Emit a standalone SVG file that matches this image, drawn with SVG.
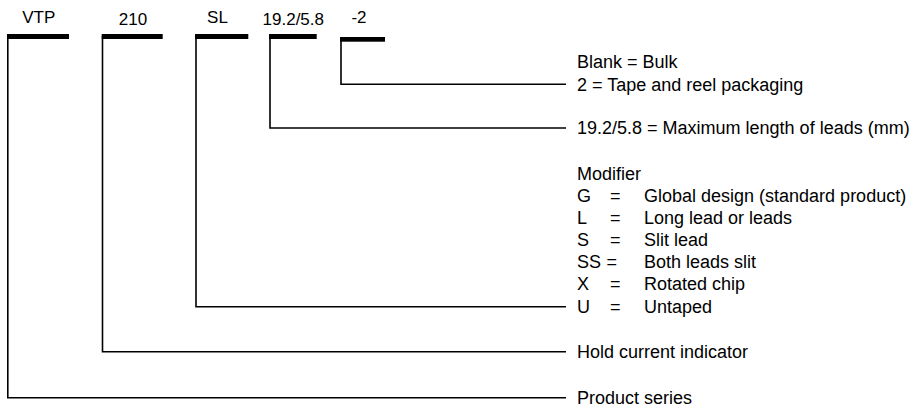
<svg xmlns="http://www.w3.org/2000/svg" width="914" height="408" viewBox="0 0 914 408">
<style>
text{font-family:"Liberation Sans",Arial,sans-serif;fill:#000}
.top{font-size:17px;text-anchor:middle}
.lbl{font-size:18px}
.bar{fill:#000}
.conn{fill:none;stroke:#000;stroke-width:1.6}
</style>
<rect width="914" height="408" fill="#fff"/>
<g id="connectors">
<path class="conn" d="M7.8,36 V397.7 H566"/>
<path class="conn" d="M102.5,36 V351.7 H566"/>
<path class="conn" d="M196,36 V306.7 H566"/>
<path class="conn" d="M270,36 V128 H566"/>
<path class="conn" d="M341,39 V84.3 H566"/>
</g>
<g id="seg-vtp">
<text class="top" x="38.8" y="23">VTP</text>
<rect class="bar" x="7" y="34" width="62" height="5"/>
</g>
<g id="seg-210">
<text class="top" x="133" y="25">210</text>
<rect class="bar" x="101.7" y="34" width="61" height="5"/>
</g>
<g id="seg-sl">
<text class="top" x="217.5" y="23">SL</text>
<rect class="bar" x="195" y="34" width="53.3" height="5"/>
</g>
<g id="seg-len">
<text class="top" x="293.3" y="25">19.2/5.8</text>
<rect class="bar" x="269" y="34" width="47.7" height="5"/>
</g>
<g id="seg-pack">
<text class="top" x="359" y="23">-2</text>
<rect class="bar" x="340" y="37" width="45" height="4.7"/>
</g>
<g id="desc-pack">
<text class="lbl" x="577" y="68">Blank = Bulk</text>
<text class="lbl" x="577" y="90.5">2 = Tape and reel packaging</text>
</g>
<g id="desc-len">
<text class="lbl" x="577" y="134">19.2/5.8 = Maximum length of leads (mm)</text>
</g>
<g id="desc-mod">
<text class="lbl" x="577" y="180">Modifier</text>
<text class="lbl" y="202"><tspan x="577">G</tspan><tspan x="610">=</tspan><tspan x="644">Global design (standard product)</tspan></text>
<text class="lbl" y="224"><tspan x="577">L</tspan><tspan x="610">=</tspan><tspan x="644">Long lead or leads</tspan></text>
<text class="lbl" y="246"><tspan x="577">S</tspan><tspan x="610">=</tspan><tspan x="644">Slit lead</tspan></text>
<text class="lbl" y="268"><tspan x="577">SS</tspan><tspan x="606.5">=</tspan><tspan x="644">Both leads slit</tspan></text>
<text class="lbl" y="290"><tspan x="577">X</tspan><tspan x="610">=</tspan><tspan x="644">Rotated chip</tspan></text>
<text class="lbl" y="312.5"><tspan x="577">U</tspan><tspan x="610">=</tspan><tspan x="644">Untaped</tspan></text>
</g>
<g id="desc-hold">
<text class="lbl" x="577" y="357.5">Hold current indicator</text>
</g>
<g id="desc-series">
<text class="lbl" x="577" y="403.5">Product series</text>
</g>
</svg>
